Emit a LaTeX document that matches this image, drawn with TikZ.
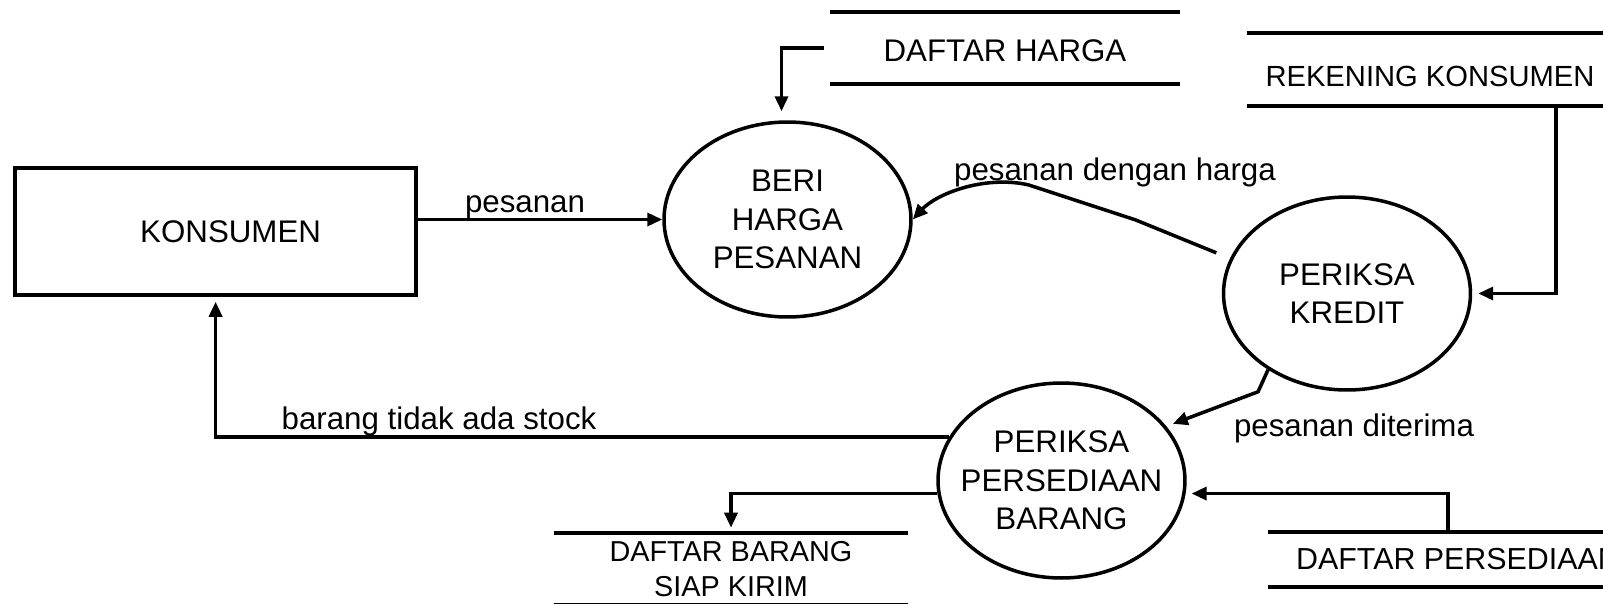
\documentclass[tikz,border=0pt]{standalone}
\usepackage{fontspec}
\setmainfont{Liberation Sans}
\usetikzlibrary{shapes.geometric}
\usetikzlibrary{arrows.meta}

\tikzset{
  proc/.style={draw,ellipse,line width=2pt,inner sep=-0.5cm,align=center,
               minimum width=4.94cm,minimum height=3.9cm},
  entity/.style={draw,rectangle,line width=2pt,inner sep=0pt,
                 minimum width=8.02cm,minimum height=2.54cm},
  store/.style={inner sep=0pt,align=center},
  storeline/.style={line width=2.2pt},
  flow/.style={line width=2pt,-{Triangle[length=0.3cm,width=0.26cm]}},
  lbl/.style={anchor=base,inner sep=0pt}
}

\begin{document}
\begin{tikzpicture}[x=0.02cm,y=-0.02cm,font=\fontsize{17.8}{21.8}\selectfont]
\useasboundingbox (0,0) rectangle (1603,603);

% external entity and processes
\node[entity] (konsumen) at (215.6,231.5) {\hspace*{0.6cm}KONSUMEN};
\node[proc] (beri) at (787.5,219.5) {BERI\\HARGA\\PESANAN};
\node[proc,minimum height=3.86cm] (kredit) at (1347,293.5) {PERIKSA\\KREDIT};
\node[proc] (persediaan) at (1061.5,480.5) {PERIKSA\\PERSEDIAAN\\BARANG};

% data stores
\node[store,minimum width=7cm,minimum height=1.42cm,
      text height=0.56cm,text depth=0cm] (harga) at (1005,47.8) {DAFTAR HARGA};
\node[store,minimum width=7.32cm,minimum height=1.45cm,
      text height=0.65cm,text depth=0cm,
      font=\fontsize{16.6}{20}\selectfont] (rekening) at (1430,69.8) {REKENING KONSUMEN};
\node[store,minimum width=7.08cm,minimum height=1.44cm,
      font=\fontsize{16.4}{19.9}\selectfont] (siap) at (731,569) {DAFTAR BARANG\\SIAP KIRIM};
\node[store,minimum width=7.58cm,minimum height=1.1cm,
      font=\fontsize{17.3}{21}\selectfont] (dp) at (1458,559.5) {DAFTAR PERSEDIAAN};
\foreach \s in {harga,rekening,siap,dp}
  \draw[storeline] (\s.north west) -- (\s.north east) (\s.south west) -- (\s.south east);

% flows
\draw[flow] (konsumen.east |- beri.west) -- (beri.west);
\draw[flow] ([xshift=-0.12cm]harga.west) -| ([shift={(-6,-9)}]beri.north);
\draw[flow] ([xshift=2.52cm]rekening.south) |- ([xshift=0.12cm]kredit.east);
\draw[flow] ([shift={(-14,-5)}]kredit.163) -- ++(-81,-33) -- ++(-107,-35)
      .. controls +(-45,-10) and ([shift={(23,-25)}]beri.east) .. (beri.east);
\draw[flow] (kredit.224) -- ++(-10,22) -- ([shift={(6,-3)}]persediaan.27);
\draw[flow,shorten >=0.1cm] (persediaan.159) -| (konsumen.south);
\draw[flow,shorten >=0.1cm] (persediaan.186) -| (siap.north);
\draw[flow] ([xshift=-0.2cm]dp.north) |- ([xshift=0.12cm]persediaan.354);

% flow labels
\node[lbl] (lpesanan) at (525,212) {pesanan};
\node[lbl] (lharga) at (1115,180) {pesanan dengan harga};
\node[lbl] (lstock) at (439,429) {barang tidak ada stock};
\node[lbl] (lterima) at (1354,436) {pesanan diterima};
\end{tikzpicture}
\end{document}
